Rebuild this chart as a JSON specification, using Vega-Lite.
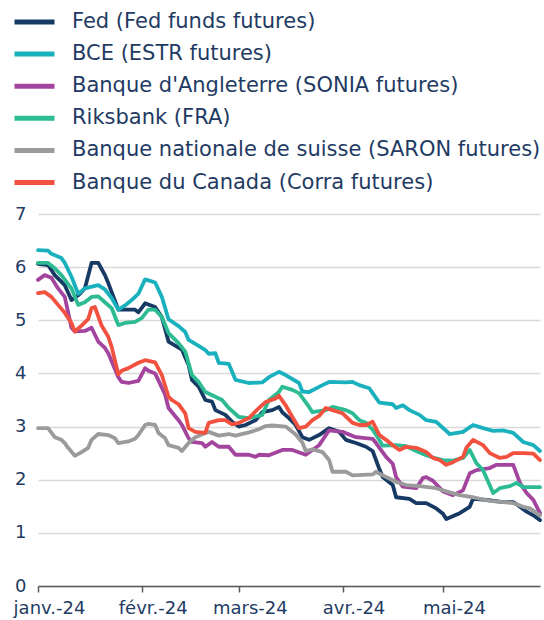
{
  "$schema": "https://vega.github.io/schema/vega-lite/v6.json",
  "width": 502,
  "height": 372,
  "autosize": {"type": "none"},
  "padding": {"left": 38, "top": 214, "right": 4, "bottom": 34},
  "background": "white",
  "config": {"view": {"stroke": null}, "font": "DejaVu Sans"},
  "datasets": {
    "rates": [
      {"s": "Fed (Fed funds futures)", "d": "2024-01-01", "v": 6.06},
      {"s": "Fed (Fed funds futures)", "d": "2024-01-04", "v": 6.04},
      {"s": "Fed (Fed funds futures)", "d": "2024-01-06", "v": 5.85},
      {"s": "Fed (Fed funds futures)", "d": "2024-01-09", "v": 5.66},
      {"s": "Fed (Fed funds futures)", "d": "2024-01-11", "v": 5.38},
      {"s": "Fed (Fed funds futures)", "d": "2024-01-13", "v": 5.47},
      {"s": "Fed (Fed funds futures)", "d": "2024-01-15", "v": 5.6},
      {"s": "Fed (Fed funds futures)", "d": "2024-01-17", "v": 6.08},
      {"s": "Fed (Fed funds futures)", "d": "2024-01-19", "v": 6.08},
      {"s": "Fed (Fed funds futures)", "d": "2024-01-21", "v": 5.85},
      {"s": "Fed (Fed funds futures)", "d": "2024-01-22", "v": 5.7},
      {"s": "Fed (Fed funds futures)", "d": "2024-01-25", "v": 5.2},
      {"s": "Fed (Fed funds futures)", "d": "2024-01-28", "v": 5.2},
      {"s": "Fed (Fed funds futures)", "d": "2024-01-30", "v": 5.2},
      {"s": "Fed (Fed funds futures)", "d": "2024-01-31", "v": 5.15},
      {"s": "Fed (Fed funds futures)", "d": "2024-02-02", "v": 5.32},
      {"s": "Fed (Fed funds futures)", "d": "2024-02-05", "v": 5.25},
      {"s": "Fed (Fed funds futures)", "d": "2024-02-07", "v": 5.06},
      {"s": "Fed (Fed funds futures)", "d": "2024-02-09", "v": 4.6},
      {"s": "Fed (Fed funds futures)", "d": "2024-02-13", "v": 4.45},
      {"s": "Fed (Fed funds futures)", "d": "2024-02-14", "v": 4.3},
      {"s": "Fed (Fed funds futures)", "d": "2024-02-15", "v": 4.16},
      {"s": "Fed (Fed funds futures)", "d": "2024-02-16", "v": 3.88},
      {"s": "Fed (Fed funds futures)", "d": "2024-02-18", "v": 3.75},
      {"s": "Fed (Fed funds futures)", "d": "2024-02-20", "v": 3.5},
      {"s": "Fed (Fed funds futures)", "d": "2024-02-22", "v": 3.47},
      {"s": "Fed (Fed funds futures)", "d": "2024-02-23", "v": 3.31},
      {"s": "Fed (Fed funds futures)", "d": "2024-02-26", "v": 3.22},
      {"s": "Fed (Fed funds futures)", "d": "2024-02-28", "v": 3.09},
      {"s": "Fed (Fed funds futures)", "d": "2024-03-01", "v": 3.0},
      {"s": "Fed (Fed funds futures)", "d": "2024-03-03", "v": 3.03},
      {"s": "Fed (Fed funds futures)", "d": "2024-03-06", "v": 3.12},
      {"s": "Fed (Fed funds futures)", "d": "2024-03-08", "v": 3.27},
      {"s": "Fed (Fed funds futures)", "d": "2024-03-11", "v": 3.31},
      {"s": "Fed (Fed funds futures)", "d": "2024-03-13", "v": 3.37},
      {"s": "Fed (Fed funds futures)", "d": "2024-03-14", "v": 3.27},
      {"s": "Fed (Fed funds futures)", "d": "2024-03-16", "v": 3.16},
      {"s": "Fed (Fed funds futures)", "d": "2024-03-18", "v": 3.03},
      {"s": "Fed (Fed funds futures)", "d": "2024-03-20", "v": 2.8},
      {"s": "Fed (Fed funds futures)", "d": "2024-03-22", "v": 2.75},
      {"s": "Fed (Fed funds futures)", "d": "2024-03-25", "v": 2.84},
      {"s": "Fed (Fed funds futures)", "d": "2024-03-28", "v": 2.97},
      {"s": "Fed (Fed funds futures)", "d": "2024-03-31", "v": 2.9},
      {"s": "Fed (Fed funds futures)", "d": "2024-04-02", "v": 2.75},
      {"s": "Fed (Fed funds futures)", "d": "2024-04-05", "v": 2.69},
      {"s": "Fed (Fed funds futures)", "d": "2024-04-08", "v": 2.62},
      {"s": "Fed (Fed funds futures)", "d": "2024-04-10", "v": 2.54},
      {"s": "Fed (Fed funds futures)", "d": "2024-04-12", "v": 2.2},
      {"s": "Fed (Fed funds futures)", "d": "2024-04-13", "v": 2.05},
      {"s": "Fed (Fed funds futures)", "d": "2024-04-16", "v": 1.9},
      {"s": "Fed (Fed funds futures)", "d": "2024-04-17", "v": 1.67},
      {"s": "Fed (Fed funds futures)", "d": "2024-04-21", "v": 1.64},
      {"s": "Fed (Fed funds futures)", "d": "2024-04-23", "v": 1.56},
      {"s": "Fed (Fed funds futures)", "d": "2024-04-26", "v": 1.56},
      {"s": "Fed (Fed funds futures)", "d": "2024-04-29", "v": 1.46},
      {"s": "Fed (Fed funds futures)", "d": "2024-05-01", "v": 1.36},
      {"s": "Fed (Fed funds futures)", "d": "2024-05-02", "v": 1.26},
      {"s": "Fed (Fed funds futures)", "d": "2024-05-06", "v": 1.37},
      {"s": "Fed (Fed funds futures)", "d": "2024-05-09", "v": 1.49},
      {"s": "Fed (Fed funds futures)", "d": "2024-05-10", "v": 1.64},
      {"s": "Fed (Fed funds futures)", "d": "2024-05-14", "v": 1.62},
      {"s": "Fed (Fed funds futures)", "d": "2024-05-19", "v": 1.58},
      {"s": "Fed (Fed funds futures)", "d": "2024-05-22", "v": 1.58},
      {"s": "Fed (Fed funds futures)", "d": "2024-05-24", "v": 1.49},
      {"s": "Fed (Fed funds futures)", "d": "2024-05-26", "v": 1.4},
      {"s": "Fed (Fed funds futures)", "d": "2024-05-28", "v": 1.33},
      {"s": "Fed (Fed funds futures)", "d": "2024-05-30", "v": 1.24},

      {"s": "BCE (ESTR futures)", "d": "2024-01-01", "v": 6.32},
      {"s": "BCE (ESTR futures)", "d": "2024-01-04", "v": 6.31},
      {"s": "BCE (ESTR futures)", "d": "2024-01-05", "v": 6.25},
      {"s": "BCE (ESTR futures)", "d": "2024-01-08", "v": 6.17},
      {"s": "BCE (ESTR futures)", "d": "2024-01-09", "v": 6.08},
      {"s": "BCE (ESTR futures)", "d": "2024-01-11", "v": 5.82},
      {"s": "BCE (ESTR futures)", "d": "2024-01-13", "v": 5.5},
      {"s": "BCE (ESTR futures)", "d": "2024-01-15", "v": 5.6},
      {"s": "BCE (ESTR futures)", "d": "2024-01-19", "v": 5.66},
      {"s": "BCE (ESTR futures)", "d": "2024-01-21", "v": 5.58},
      {"s": "BCE (ESTR futures)", "d": "2024-01-23", "v": 5.42},
      {"s": "BCE (ESTR futures)", "d": "2024-01-25", "v": 5.2},
      {"s": "BCE (ESTR futures)", "d": "2024-01-27", "v": 5.28},
      {"s": "BCE (ESTR futures)", "d": "2024-01-29", "v": 5.38},
      {"s": "BCE (ESTR futures)", "d": "2024-01-31", "v": 5.5},
      {"s": "BCE (ESTR futures)", "d": "2024-02-02", "v": 5.77},
      {"s": "BCE (ESTR futures)", "d": "2024-02-03", "v": 5.75},
      {"s": "BCE (ESTR futures)", "d": "2024-02-05", "v": 5.71},
      {"s": "BCE (ESTR futures)", "d": "2024-02-07", "v": 5.44},
      {"s": "BCE (ESTR futures)", "d": "2024-02-09", "v": 5.02},
      {"s": "BCE (ESTR futures)", "d": "2024-02-12", "v": 4.89},
      {"s": "BCE (ESTR futures)", "d": "2024-02-14", "v": 4.78},
      {"s": "BCE (ESTR futures)", "d": "2024-02-15", "v": 4.63},
      {"s": "BCE (ESTR futures)", "d": "2024-02-18", "v": 4.52},
      {"s": "BCE (ESTR futures)", "d": "2024-02-20", "v": 4.44},
      {"s": "BCE (ESTR futures)", "d": "2024-02-21", "v": 4.37},
      {"s": "BCE (ESTR futures)", "d": "2024-02-23", "v": 4.38},
      {"s": "BCE (ESTR futures)", "d": "2024-02-24", "v": 4.2},
      {"s": "BCE (ESTR futures)", "d": "2024-02-27", "v": 4.18},
      {"s": "BCE (ESTR futures)", "d": "2024-02-29", "v": 3.88},
      {"s": "BCE (ESTR futures)", "d": "2024-03-04", "v": 3.82},
      {"s": "BCE (ESTR futures)", "d": "2024-03-08", "v": 3.83},
      {"s": "BCE (ESTR futures)", "d": "2024-03-10", "v": 3.93},
      {"s": "BCE (ESTR futures)", "d": "2024-03-13", "v": 4.03},
      {"s": "BCE (ESTR futures)", "d": "2024-03-15", "v": 3.97},
      {"s": "BCE (ESTR futures)", "d": "2024-03-19", "v": 3.82},
      {"s": "BCE (ESTR futures)", "d": "2024-03-20", "v": 3.66},
      {"s": "BCE (ESTR futures)", "d": "2024-03-22", "v": 3.65},
      {"s": "BCE (ESTR futures)", "d": "2024-03-26", "v": 3.78},
      {"s": "BCE (ESTR futures)", "d": "2024-03-28", "v": 3.84},
      {"s": "BCE (ESTR futures)", "d": "2024-04-02", "v": 3.83},
      {"s": "BCE (ESTR futures)", "d": "2024-04-04", "v": 3.84},
      {"s": "BCE (ESTR futures)", "d": "2024-04-06", "v": 3.78},
      {"s": "BCE (ESTR futures)", "d": "2024-04-09", "v": 3.72},
      {"s": "BCE (ESTR futures)", "d": "2024-04-12", "v": 3.45},
      {"s": "BCE (ESTR futures)", "d": "2024-04-16", "v": 3.42},
      {"s": "BCE (ESTR futures)", "d": "2024-04-17", "v": 3.35},
      {"s": "BCE (ESTR futures)", "d": "2024-04-19", "v": 3.4},
      {"s": "BCE (ESTR futures)", "d": "2024-04-21", "v": 3.31},
      {"s": "BCE (ESTR futures)", "d": "2024-04-24", "v": 3.22},
      {"s": "BCE (ESTR futures)", "d": "2024-04-26", "v": 3.12},
      {"s": "BCE (ESTR futures)", "d": "2024-04-29", "v": 3.09},
      {"s": "BCE (ESTR futures)", "d": "2024-05-03", "v": 2.86},
      {"s": "BCE (ESTR futures)", "d": "2024-05-07", "v": 2.9},
      {"s": "BCE (ESTR futures)", "d": "2024-05-10", "v": 3.03},
      {"s": "BCE (ESTR futures)", "d": "2024-05-13", "v": 2.97},
      {"s": "BCE (ESTR futures)", "d": "2024-05-16", "v": 2.92},
      {"s": "BCE (ESTR futures)", "d": "2024-05-19", "v": 2.93},
      {"s": "BCE (ESTR futures)", "d": "2024-05-22", "v": 2.88},
      {"s": "BCE (ESTR futures)", "d": "2024-05-25", "v": 2.71},
      {"s": "BCE (ESTR futures)", "d": "2024-05-28", "v": 2.65},
      {"s": "BCE (ESTR futures)", "d": "2024-05-30", "v": 2.54},

      {"s": "Banque d'Angleterre (SONIA futures)", "d": "2024-01-01", "v": 5.76},
      {"s": "Banque d'Angleterre (SONIA futures)", "d": "2024-01-03", "v": 5.85},
      {"s": "Banque d'Angleterre (SONIA futures)", "d": "2024-01-05", "v": 5.8},
      {"s": "Banque d'Angleterre (SONIA futures)", "d": "2024-01-07", "v": 5.6},
      {"s": "Banque d'Angleterre (SONIA futures)", "d": "2024-01-09", "v": 5.44},
      {"s": "Banque d'Angleterre (SONIA futures)", "d": "2024-01-10", "v": 5.15},
      {"s": "Banque d'Angleterre (SONIA futures)", "d": "2024-01-11", "v": 4.86},
      {"s": "Banque d'Angleterre (SONIA futures)", "d": "2024-01-12", "v": 4.79},
      {"s": "Banque d'Angleterre (SONIA futures)", "d": "2024-01-15", "v": 4.8},
      {"s": "Banque d'Angleterre (SONIA futures)", "d": "2024-01-17", "v": 4.86},
      {"s": "Banque d'Angleterre (SONIA futures)", "d": "2024-01-19", "v": 4.6},
      {"s": "Banque d'Angleterre (SONIA futures)", "d": "2024-01-21", "v": 4.48},
      {"s": "Banque d'Angleterre (SONIA futures)", "d": "2024-01-22", "v": 4.38},
      {"s": "Banque d'Angleterre (SONIA futures)", "d": "2024-01-25", "v": 3.93},
      {"s": "Banque d'Angleterre (SONIA futures)", "d": "2024-01-26", "v": 3.84},
      {"s": "Banque d'Angleterre (SONIA futures)", "d": "2024-01-28", "v": 3.82},
      {"s": "Banque d'Angleterre (SONIA futures)", "d": "2024-01-31", "v": 3.86},
      {"s": "Banque d'Angleterre (SONIA futures)", "d": "2024-02-02", "v": 4.1},
      {"s": "Banque d'Angleterre (SONIA futures)", "d": "2024-02-03", "v": 4.05},
      {"s": "Banque d'Angleterre (SONIA futures)", "d": "2024-02-05", "v": 4.0},
      {"s": "Banque d'Angleterre (SONIA futures)", "d": "2024-02-08", "v": 3.6},
      {"s": "Banque d'Angleterre (SONIA futures)", "d": "2024-02-09", "v": 3.35},
      {"s": "Banque d'Angleterre (SONIA futures)", "d": "2024-02-12", "v": 3.12},
      {"s": "Banque d'Angleterre (SONIA futures)", "d": "2024-02-13", "v": 3.03},
      {"s": "Banque d'Angleterre (SONIA futures)", "d": "2024-02-15", "v": 2.78},
      {"s": "Banque d'Angleterre (SONIA futures)", "d": "2024-02-16", "v": 2.71},
      {"s": "Banque d'Angleterre (SONIA futures)", "d": "2024-02-19", "v": 2.69},
      {"s": "Banque d'Angleterre (SONIA futures)", "d": "2024-02-20", "v": 2.62},
      {"s": "Banque d'Angleterre (SONIA futures)", "d": "2024-02-22", "v": 2.71},
      {"s": "Banque d'Angleterre (SONIA futures)", "d": "2024-02-24", "v": 2.62},
      {"s": "Banque d'Angleterre (SONIA futures)", "d": "2024-02-27", "v": 2.62},
      {"s": "Banque d'Angleterre (SONIA futures)", "d": "2024-02-29", "v": 2.47},
      {"s": "Banque d'Angleterre (SONIA futures)", "d": "2024-03-04", "v": 2.47},
      {"s": "Banque d'Angleterre (SONIA futures)", "d": "2024-03-06", "v": 2.43},
      {"s": "Banque d'Angleterre (SONIA futures)", "d": "2024-03-07", "v": 2.47},
      {"s": "Banque d'Angleterre (SONIA futures)", "d": "2024-03-10", "v": 2.46},
      {"s": "Banque d'Angleterre (SONIA futures)", "d": "2024-03-14", "v": 2.56},
      {"s": "Banque d'Angleterre (SONIA futures)", "d": "2024-03-17", "v": 2.56},
      {"s": "Banque d'Angleterre (SONIA futures)", "d": "2024-03-21", "v": 2.47},
      {"s": "Banque d'Angleterre (SONIA futures)", "d": "2024-03-25", "v": 2.65},
      {"s": "Banque d'Angleterre (SONIA futures)", "d": "2024-03-28", "v": 2.93},
      {"s": "Banque d'Angleterre (SONIA futures)", "d": "2024-04-01", "v": 2.9},
      {"s": "Banque d'Angleterre (SONIA futures)", "d": "2024-04-05", "v": 2.8},
      {"s": "Banque d'Angleterre (SONIA futures)", "d": "2024-04-10", "v": 2.77},
      {"s": "Banque d'Angleterre (SONIA futures)", "d": "2024-04-11", "v": 2.69},
      {"s": "Banque d'Angleterre (SONIA futures)", "d": "2024-04-14", "v": 2.43},
      {"s": "Banque d'Angleterre (SONIA futures)", "d": "2024-04-16", "v": 2.3},
      {"s": "Banque d'Angleterre (SONIA futures)", "d": "2024-04-17", "v": 2.05},
      {"s": "Banque d'Angleterre (SONIA futures)", "d": "2024-04-19", "v": 1.87},
      {"s": "Banque d'Angleterre (SONIA futures)", "d": "2024-04-23", "v": 1.84},
      {"s": "Banque d'Angleterre (SONIA futures)", "d": "2024-04-25", "v": 2.03},
      {"s": "Banque d'Angleterre (SONIA futures)", "d": "2024-04-26", "v": 2.05},
      {"s": "Banque d'Angleterre (SONIA futures)", "d": "2024-04-28", "v": 1.98},
      {"s": "Banque d'Angleterre (SONIA futures)", "d": "2024-05-01", "v": 1.78},
      {"s": "Banque d'Angleterre (SONIA futures)", "d": "2024-05-04", "v": 1.71},
      {"s": "Banque d'Angleterre (SONIA futures)", "d": "2024-05-07", "v": 1.8},
      {"s": "Banque d'Angleterre (SONIA futures)", "d": "2024-05-09", "v": 2.12},
      {"s": "Banque d'Angleterre (SONIA futures)", "d": "2024-05-11", "v": 2.18},
      {"s": "Banque d'Angleterre (SONIA futures)", "d": "2024-05-15", "v": 2.22},
      {"s": "Banque d'Angleterre (SONIA futures)", "d": "2024-05-17", "v": 2.28},
      {"s": "Banque d'Angleterre (SONIA futures)", "d": "2024-05-22", "v": 2.28},
      {"s": "Banque d'Angleterre (SONIA futures)", "d": "2024-05-24", "v": 1.94},
      {"s": "Banque d'Angleterre (SONIA futures)", "d": "2024-05-26", "v": 1.75},
      {"s": "Banque d'Angleterre (SONIA futures)", "d": "2024-05-28", "v": 1.62},
      {"s": "Banque d'Angleterre (SONIA futures)", "d": "2024-05-30", "v": 1.37},

      {"s": "Riksbank (FRA)", "d": "2024-01-01", "v": 6.08},
      {"s": "Riksbank (FRA)", "d": "2024-01-04", "v": 6.08},
      {"s": "Riksbank (FRA)", "d": "2024-01-06", "v": 5.98},
      {"s": "Riksbank (FRA)", "d": "2024-01-08", "v": 5.85},
      {"s": "Riksbank (FRA)", "d": "2024-01-11", "v": 5.6},
      {"s": "Riksbank (FRA)", "d": "2024-01-13", "v": 5.29},
      {"s": "Riksbank (FRA)", "d": "2024-01-15", "v": 5.34},
      {"s": "Riksbank (FRA)", "d": "2024-01-17", "v": 5.44},
      {"s": "Riksbank (FRA)", "d": "2024-01-19", "v": 5.45},
      {"s": "Riksbank (FRA)", "d": "2024-01-21", "v": 5.34},
      {"s": "Riksbank (FRA)", "d": "2024-01-23", "v": 5.23},
      {"s": "Riksbank (FRA)", "d": "2024-01-25", "v": 4.91},
      {"s": "Riksbank (FRA)", "d": "2024-01-27", "v": 4.95},
      {"s": "Riksbank (FRA)", "d": "2024-01-30", "v": 4.97},
      {"s": "Riksbank (FRA)", "d": "2024-02-01", "v": 5.04},
      {"s": "Riksbank (FRA)", "d": "2024-02-03", "v": 5.2},
      {"s": "Riksbank (FRA)", "d": "2024-02-05", "v": 5.2},
      {"s": "Riksbank (FRA)", "d": "2024-02-07", "v": 5.06},
      {"s": "Riksbank (FRA)", "d": "2024-02-09", "v": 4.76},
      {"s": "Riksbank (FRA)", "d": "2024-02-12", "v": 4.57},
      {"s": "Riksbank (FRA)", "d": "2024-02-14", "v": 4.41},
      {"s": "Riksbank (FRA)", "d": "2024-02-16", "v": 3.97},
      {"s": "Riksbank (FRA)", "d": "2024-02-18", "v": 3.84},
      {"s": "Riksbank (FRA)", "d": "2024-02-20", "v": 3.65},
      {"s": "Riksbank (FRA)", "d": "2024-02-23", "v": 3.56},
      {"s": "Riksbank (FRA)", "d": "2024-02-25", "v": 3.5},
      {"s": "Riksbank (FRA)", "d": "2024-02-27", "v": 3.35},
      {"s": "Riksbank (FRA)", "d": "2024-03-01", "v": 3.18},
      {"s": "Riksbank (FRA)", "d": "2024-03-04", "v": 3.16},
      {"s": "Riksbank (FRA)", "d": "2024-03-08", "v": 3.22},
      {"s": "Riksbank (FRA)", "d": "2024-03-10", "v": 3.5},
      {"s": "Riksbank (FRA)", "d": "2024-03-13", "v": 3.65},
      {"s": "Riksbank (FRA)", "d": "2024-03-14", "v": 3.75},
      {"s": "Riksbank (FRA)", "d": "2024-03-17", "v": 3.69},
      {"s": "Riksbank (FRA)", "d": "2024-03-19", "v": 3.63},
      {"s": "Riksbank (FRA)", "d": "2024-03-22", "v": 3.37},
      {"s": "Riksbank (FRA)", "d": "2024-03-23", "v": 3.27},
      {"s": "Riksbank (FRA)", "d": "2024-03-27", "v": 3.31},
      {"s": "Riksbank (FRA)", "d": "2024-03-29", "v": 3.37},
      {"s": "Riksbank (FRA)", "d": "2024-04-02", "v": 3.31},
      {"s": "Riksbank (FRA)", "d": "2024-04-04", "v": 3.25},
      {"s": "Riksbank (FRA)", "d": "2024-04-06", "v": 3.12},
      {"s": "Riksbank (FRA)", "d": "2024-04-08", "v": 3.07},
      {"s": "Riksbank (FRA)", "d": "2024-04-10", "v": 2.94},
      {"s": "Riksbank (FRA)", "d": "2024-04-11", "v": 2.85},
      {"s": "Riksbank (FRA)", "d": "2024-04-13", "v": 2.64},
      {"s": "Riksbank (FRA)", "d": "2024-04-17", "v": 2.65},
      {"s": "Riksbank (FRA)", "d": "2024-04-20", "v": 2.63},
      {"s": "Riksbank (FRA)", "d": "2024-04-23", "v": 2.54},
      {"s": "Riksbank (FRA)", "d": "2024-04-26", "v": 2.46},
      {"s": "Riksbank (FRA)", "d": "2024-04-29", "v": 2.4},
      {"s": "Riksbank (FRA)", "d": "2024-05-01", "v": 2.37},
      {"s": "Riksbank (FRA)", "d": "2024-05-04", "v": 2.36},
      {"s": "Riksbank (FRA)", "d": "2024-05-07", "v": 2.41},
      {"s": "Riksbank (FRA)", "d": "2024-05-09", "v": 2.56},
      {"s": "Riksbank (FRA)", "d": "2024-05-11", "v": 2.31},
      {"s": "Riksbank (FRA)", "d": "2024-05-13", "v": 2.18},
      {"s": "Riksbank (FRA)", "d": "2024-05-16", "v": 1.75},
      {"s": "Riksbank (FRA)", "d": "2024-05-18", "v": 1.84},
      {"s": "Riksbank (FRA)", "d": "2024-05-21", "v": 1.88},
      {"s": "Riksbank (FRA)", "d": "2024-05-23", "v": 1.94},
      {"s": "Riksbank (FRA)", "d": "2024-05-25", "v": 1.86},
      {"s": "Riksbank (FRA)", "d": "2024-05-30", "v": 1.86},

      {"s": "Banque nationale de suisse (SARON futures)", "d": "2024-01-01", "v": 2.97},
      {"s": "Banque nationale de suisse (SARON futures)", "d": "2024-01-04", "v": 2.97},
      {"s": "Banque nationale de suisse (SARON futures)", "d": "2024-01-06", "v": 2.8},
      {"s": "Banque nationale de suisse (SARON futures)", "d": "2024-01-08", "v": 2.75},
      {"s": "Banque nationale de suisse (SARON futures)", "d": "2024-01-09", "v": 2.69},
      {"s": "Banque nationale de suisse (SARON futures)", "d": "2024-01-10", "v": 2.6},
      {"s": "Banque nationale de suisse (SARON futures)", "d": "2024-01-12", "v": 2.45},
      {"s": "Banque nationale de suisse (SARON futures)", "d": "2024-01-14", "v": 2.52},
      {"s": "Banque nationale de suisse (SARON futures)", "d": "2024-01-16", "v": 2.6},
      {"s": "Banque nationale de suisse (SARON futures)", "d": "2024-01-17", "v": 2.75},
      {"s": "Banque nationale de suisse (SARON futures)", "d": "2024-01-19", "v": 2.86},
      {"s": "Banque nationale de suisse (SARON futures)", "d": "2024-01-22", "v": 2.84},
      {"s": "Banque nationale de suisse (SARON futures)", "d": "2024-01-24", "v": 2.78},
      {"s": "Banque nationale de suisse (SARON futures)", "d": "2024-01-25", "v": 2.69},
      {"s": "Banque nationale de suisse (SARON futures)", "d": "2024-01-28", "v": 2.72},
      {"s": "Banque nationale de suisse (SARON futures)", "d": "2024-01-30", "v": 2.77},
      {"s": "Banque nationale de suisse (SARON futures)", "d": "2024-01-31", "v": 2.84},
      {"s": "Banque nationale de suisse (SARON futures)", "d": "2024-02-02", "v": 3.03},
      {"s": "Banque nationale de suisse (SARON futures)", "d": "2024-02-03", "v": 3.05},
      {"s": "Banque nationale de suisse (SARON futures)", "d": "2024-02-05", "v": 3.03},
      {"s": "Banque nationale de suisse (SARON futures)", "d": "2024-02-06", "v": 2.88},
      {"s": "Banque nationale de suisse (SARON futures)", "d": "2024-02-08", "v": 2.78},
      {"s": "Banque nationale de suisse (SARON futures)", "d": "2024-02-09", "v": 2.65},
      {"s": "Banque nationale de suisse (SARON futures)", "d": "2024-02-12", "v": 2.6},
      {"s": "Banque nationale de suisse (SARON futures)", "d": "2024-02-13", "v": 2.54},
      {"s": "Banque nationale de suisse (SARON futures)", "d": "2024-02-15", "v": 2.69},
      {"s": "Banque nationale de suisse (SARON futures)", "d": "2024-02-17", "v": 2.8},
      {"s": "Banque nationale de suisse (SARON futures)", "d": "2024-02-20", "v": 2.88},
      {"s": "Banque nationale de suisse (SARON futures)", "d": "2024-02-21", "v": 2.9},
      {"s": "Banque nationale de suisse (SARON futures)", "d": "2024-02-24", "v": 2.83},
      {"s": "Banque nationale de suisse (SARON futures)", "d": "2024-02-27", "v": 2.86},
      {"s": "Banque nationale de suisse (SARON futures)", "d": "2024-02-29", "v": 2.83},
      {"s": "Banque nationale de suisse (SARON futures)", "d": "2024-03-04", "v": 2.89},
      {"s": "Banque nationale de suisse (SARON futures)", "d": "2024-03-07", "v": 2.95},
      {"s": "Banque nationale de suisse (SARON futures)", "d": "2024-03-09", "v": 3.01},
      {"s": "Banque nationale de suisse (SARON futures)", "d": "2024-03-11", "v": 3.02},
      {"s": "Banque nationale de suisse (SARON futures)", "d": "2024-03-15", "v": 3.0},
      {"s": "Banque nationale de suisse (SARON futures)", "d": "2024-03-18", "v": 2.85},
      {"s": "Banque nationale de suisse (SARON futures)", "d": "2024-03-20", "v": 2.7},
      {"s": "Banque nationale de suisse (SARON futures)", "d": "2024-03-21", "v": 2.54},
      {"s": "Banque nationale de suisse (SARON futures)", "d": "2024-03-23", "v": 2.57},
      {"s": "Banque nationale de suisse (SARON futures)", "d": "2024-03-26", "v": 2.52},
      {"s": "Banque nationale de suisse (SARON futures)", "d": "2024-03-28", "v": 2.37},
      {"s": "Banque nationale de suisse (SARON futures)", "d": "2024-03-29", "v": 2.15},
      {"s": "Banque nationale de suisse (SARON futures)", "d": "2024-04-02", "v": 2.15},
      {"s": "Banque nationale de suisse (SARON futures)", "d": "2024-04-04", "v": 2.08},
      {"s": "Banque nationale de suisse (SARON futures)", "d": "2024-04-07", "v": 2.09},
      {"s": "Banque nationale de suisse (SARON futures)", "d": "2024-04-10", "v": 2.1},
      {"s": "Banque nationale de suisse (SARON futures)", "d": "2024-04-11", "v": 2.15},
      {"s": "Banque nationale de suisse (SARON futures)", "d": "2024-04-14", "v": 2.05},
      {"s": "Banque nationale de suisse (SARON futures)", "d": "2024-04-17", "v": 1.96},
      {"s": "Banque nationale de suisse (SARON futures)", "d": "2024-04-20", "v": 1.9},
      {"s": "Banque nationale de suisse (SARON futures)", "d": "2024-04-24", "v": 1.88},
      {"s": "Banque nationale de suisse (SARON futures)", "d": "2024-04-29", "v": 1.84},
      {"s": "Banque nationale de suisse (SARON futures)", "d": "2024-05-02", "v": 1.78},
      {"s": "Banque nationale de suisse (SARON futures)", "d": "2024-05-06", "v": 1.71},
      {"s": "Banque nationale de suisse (SARON futures)", "d": "2024-05-10", "v": 1.67},
      {"s": "Banque nationale de suisse (SARON futures)", "d": "2024-05-15", "v": 1.6},
      {"s": "Banque nationale de suisse (SARON futures)", "d": "2024-05-19", "v": 1.58},
      {"s": "Banque nationale de suisse (SARON futures)", "d": "2024-05-22", "v": 1.56},
      {"s": "Banque nationale de suisse (SARON futures)", "d": "2024-05-25", "v": 1.49},
      {"s": "Banque nationale de suisse (SARON futures)", "d": "2024-05-27", "v": 1.46},
      {"s": "Banque nationale de suisse (SARON futures)", "d": "2024-05-30", "v": 1.33},

      {"s": "Banque du Canada (Corra futures)", "d": "2024-01-01", "v": 5.51},
      {"s": "Banque du Canada (Corra futures)", "d": "2024-01-03", "v": 5.53},
      {"s": "Banque du Canada (Corra futures)", "d": "2024-01-05", "v": 5.44},
      {"s": "Banque du Canada (Corra futures)", "d": "2024-01-07", "v": 5.29},
      {"s": "Banque du Canada (Corra futures)", "d": "2024-01-09", "v": 5.14},
      {"s": "Banque du Canada (Corra futures)", "d": "2024-01-11", "v": 4.95},
      {"s": "Banque du Canada (Corra futures)", "d": "2024-01-12", "v": 4.79},
      {"s": "Banque du Canada (Corra futures)", "d": "2024-01-14", "v": 4.9},
      {"s": "Banque du Canada (Corra futures)", "d": "2024-01-16", "v": 5.02},
      {"s": "Banque du Canada (Corra futures)", "d": "2024-01-17", "v": 5.23},
      {"s": "Banque du Canada (Corra futures)", "d": "2024-01-18", "v": 5.25},
      {"s": "Banque du Canada (Corra futures)", "d": "2024-01-20", "v": 4.9},
      {"s": "Banque du Canada (Corra futures)", "d": "2024-01-22", "v": 4.69},
      {"s": "Banque du Canada (Corra futures)", "d": "2024-01-23", "v": 4.5},
      {"s": "Banque du Canada (Corra futures)", "d": "2024-01-25", "v": 3.98},
      {"s": "Banque du Canada (Corra futures)", "d": "2024-01-26", "v": 4.05},
      {"s": "Banque du Canada (Corra futures)", "d": "2024-01-28", "v": 4.1},
      {"s": "Banque du Canada (Corra futures)", "d": "2024-01-31", "v": 4.2},
      {"s": "Banque du Canada (Corra futures)", "d": "2024-02-02", "v": 4.25},
      {"s": "Banque du Canada (Corra futures)", "d": "2024-02-05", "v": 4.21},
      {"s": "Banque du Canada (Corra futures)", "d": "2024-02-07", "v": 3.97},
      {"s": "Banque du Canada (Corra futures)", "d": "2024-02-09", "v": 3.56},
      {"s": "Banque du Canada (Corra futures)", "d": "2024-02-10", "v": 3.5},
      {"s": "Banque du Canada (Corra futures)", "d": "2024-02-12", "v": 3.42},
      {"s": "Banque du Canada (Corra futures)", "d": "2024-02-14", "v": 3.25},
      {"s": "Banque du Canada (Corra futures)", "d": "2024-02-15", "v": 2.97},
      {"s": "Banque du Canada (Corra futures)", "d": "2024-02-17", "v": 2.9},
      {"s": "Banque du Canada (Corra futures)", "d": "2024-02-20", "v": 2.88},
      {"s": "Banque du Canada (Corra futures)", "d": "2024-02-21", "v": 3.07},
      {"s": "Banque du Canada (Corra futures)", "d": "2024-02-24", "v": 3.12},
      {"s": "Banque du Canada (Corra futures)", "d": "2024-02-26", "v": 3.12},
      {"s": "Banque du Canada (Corra futures)", "d": "2024-02-28", "v": 3.04},
      {"s": "Banque du Canada (Corra futures)", "d": "2024-03-01", "v": 3.07},
      {"s": "Banque du Canada (Corra futures)", "d": "2024-03-04", "v": 3.16},
      {"s": "Banque du Canada (Corra futures)", "d": "2024-03-07", "v": 3.35},
      {"s": "Banque du Canada (Corra futures)", "d": "2024-03-09", "v": 3.46},
      {"s": "Banque du Canada (Corra futures)", "d": "2024-03-12", "v": 3.53},
      {"s": "Banque du Canada (Corra futures)", "d": "2024-03-13", "v": 3.58},
      {"s": "Banque du Canada (Corra futures)", "d": "2024-03-15", "v": 3.4},
      {"s": "Banque du Canada (Corra futures)", "d": "2024-03-17", "v": 3.18},
      {"s": "Banque du Canada (Corra futures)", "d": "2024-03-19", "v": 2.97},
      {"s": "Banque du Canada (Corra futures)", "d": "2024-03-21", "v": 3.0},
      {"s": "Banque du Canada (Corra futures)", "d": "2024-03-23", "v": 3.12},
      {"s": "Banque du Canada (Corra futures)", "d": "2024-03-25", "v": 3.2},
      {"s": "Banque du Canada (Corra futures)", "d": "2024-03-27", "v": 3.35},
      {"s": "Banque du Canada (Corra futures)", "d": "2024-03-29", "v": 3.31},
      {"s": "Banque du Canada (Corra futures)", "d": "2024-04-01", "v": 3.25},
      {"s": "Banque du Canada (Corra futures)", "d": "2024-04-04", "v": 3.07},
      {"s": "Banque du Canada (Corra futures)", "d": "2024-04-06", "v": 3.03},
      {"s": "Banque du Canada (Corra futures)", "d": "2024-04-08", "v": 3.03},
      {"s": "Banque du Canada (Corra futures)", "d": "2024-04-10", "v": 3.09},
      {"s": "Banque du Canada (Corra futures)", "d": "2024-04-12", "v": 2.84},
      {"s": "Banque du Canada (Corra futures)", "d": "2024-04-14", "v": 2.75},
      {"s": "Banque du Canada (Corra futures)", "d": "2024-04-16", "v": 2.65},
      {"s": "Banque du Canada (Corra futures)", "d": "2024-04-18", "v": 2.56},
      {"s": "Banque du Canada (Corra futures)", "d": "2024-04-20", "v": 2.62},
      {"s": "Banque du Canada (Corra futures)", "d": "2024-04-23", "v": 2.6},
      {"s": "Banque du Canada (Corra futures)", "d": "2024-04-26", "v": 2.52},
      {"s": "Banque du Canada (Corra futures)", "d": "2024-04-28", "v": 2.41},
      {"s": "Banque du Canada (Corra futures)", "d": "2024-04-30", "v": 2.37},
      {"s": "Banque du Canada (Corra futures)", "d": "2024-05-02", "v": 2.28},
      {"s": "Banque du Canada (Corra futures)", "d": "2024-05-04", "v": 2.33},
      {"s": "Banque du Canada (Corra futures)", "d": "2024-05-07", "v": 2.43},
      {"s": "Banque du Canada (Corra futures)", "d": "2024-05-08", "v": 2.6},
      {"s": "Banque du Canada (Corra futures)", "d": "2024-05-10", "v": 2.75},
      {"s": "Banque du Canada (Corra futures)", "d": "2024-05-13", "v": 2.65},
      {"s": "Banque du Canada (Corra futures)", "d": "2024-05-15", "v": 2.5},
      {"s": "Banque du Canada (Corra futures)", "d": "2024-05-18", "v": 2.41},
      {"s": "Banque du Canada (Corra futures)", "d": "2024-05-20", "v": 2.43},
      {"s": "Banque du Canada (Corra futures)", "d": "2024-05-22", "v": 2.5},
      {"s": "Banque du Canada (Corra futures)", "d": "2024-05-25", "v": 2.5},
      {"s": "Banque du Canada (Corra futures)", "d": "2024-05-28", "v": 2.49},
      {"s": "Banque du Canada (Corra futures)", "d": "2024-05-30", "v": 2.37}
    ]
  },
  "data": {"name": "rates"},
  "mark": {"type": "line", "strokeWidth": 3.8, "strokeJoin": "round", "strokeCap": "round"},
  "encoding": {
    "x": {
      "field": "d",
      "type": "temporal",
      "scale": {
        "type": "utc",
        "domain": [
          {"year": 2024, "month": 1, "date": 1, "utc": true},
          {"year": 2024, "month": 5, "date": 30, "utc": true}
        ]
      },
      "axis": {
        "title": null,
        "grid": false,
        "values": [
          {"year": 2024, "month": 1, "date": 1, "utc": true},
          {"year": 2024, "month": 2, "date": 1, "utc": true},
          {"year": 2024, "month": 3, "date": 1, "utc": true},
          {"year": 2024, "month": 4, "date": 1, "utc": true},
          {"year": 2024, "month": 5, "date": 1, "utc": true}
        ],
        "labelExpr": "['janv.','févr.','mars','avr.','mai','juin'][utcmonth(datum.value)] + '-24'",
        "domainColor": "#595959",
        "domainWidth": 1.5,
        "tickColor": "#595959",
        "tickWidth": 1.5,
        "tickSize": 6,
        "labelFont": "DejaVu Sans",
        "labelFontSize": 18,
        "labelColor": "#1f3b63",
        "labelPadding": 7,
        "labelOffset": 11,
        "labelFlush": false,
        "labelOverlap": false
      }
    },
    "y": {
      "field": "v",
      "type": "quantitative",
      "scale": {"domain": [0, 7], "nice": false},
      "axis": {
        "title": null,
        "values": [0, 1, 2, 3, 4, 5, 6, 7],
        "domain": false,
        "ticks": false,
        "grid": true,
        "gridColor": "#d9d9d9",
        "gridWidth": 1.5,
        "labelFont": "DejaVu Sans",
        "labelFontSize": 18,
        "labelColor": "#1f3b63",
        "labelPadding": 12
      }
    },
    "color": {
      "field": "s",
      "type": "nominal",
      "sort": null,
      "scale": {
        "domain": [
          "Fed (Fed funds futures)",
          "BCE (ESTR futures)",
          "Banque d'Angleterre (SONIA futures)",
          "Riksbank (FRA)",
          "Banque nationale de suisse (SARON futures)",
          "Banque du Canada (Corra futures)"
        ],
        "range": ["#173a64", "#1ab1bf", "#a3459e", "#2dbb94", "#9b9b9b", "#f2513f"]
      },
      "legend": {
        "orient": "none",
        "legendX": -16,
        "legendY": -204.5,
        "title": null,
        "direction": "vertical",
        "symbolType": "M-2,0H2",
        "symbolSize": 400,
        "symbolStrokeWidth": 5,
        "labelFont": "DejaVu Sans",
        "labelFontSize": 21,
        "labelColor": "#1f3b63",
        "labelOffset": 25,
        "labelLimit": 700,
        "rowPadding": 9.1,
        "padding": 0
      }
    }
  }
}
